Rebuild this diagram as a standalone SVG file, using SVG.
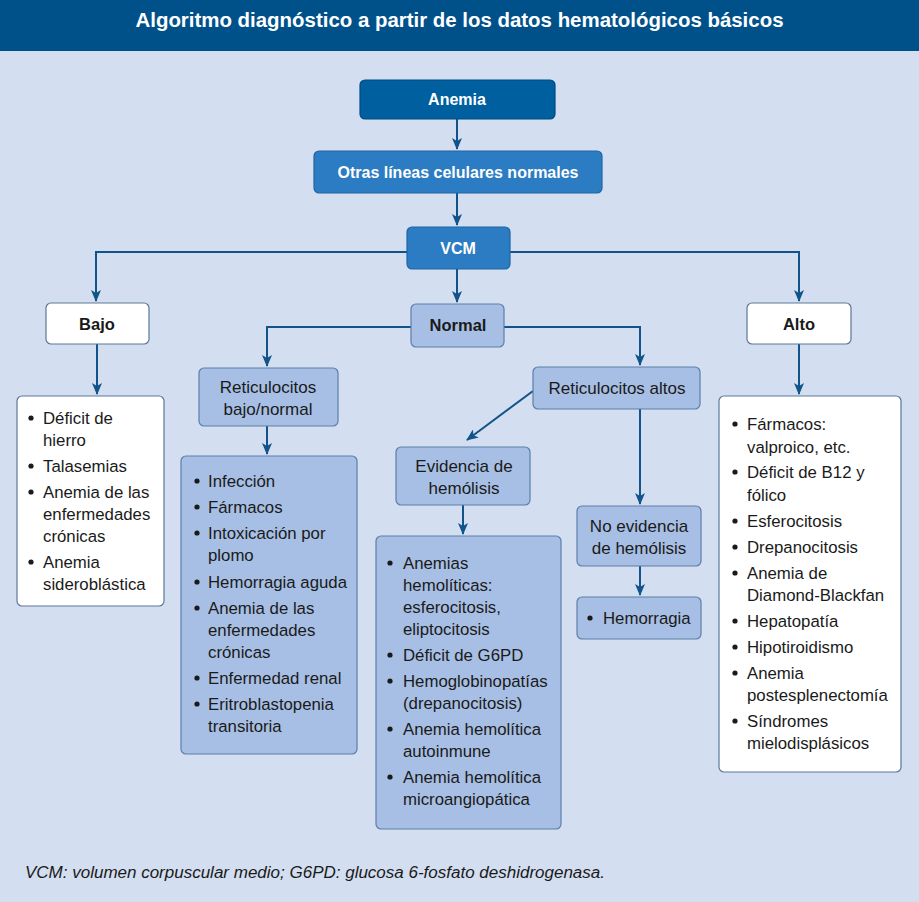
<svg xmlns="http://www.w3.org/2000/svg" width="919" height="902" viewBox="0 0 919 902">
<defs>
<marker id="ah" viewBox="0 0 12 10" refX="11" refY="5" markerWidth="12" markerHeight="10" markerUnits="userSpaceOnUse" orient="auto">
<path d="M0,0 L12,5 L0,10 L3,5 Z" fill="#12548a"/>
</marker>
</defs>
<style>
.bg{fill:#d3def1}
.hdr{fill:#00518a}
.title{font-family:"Liberation Sans",Arial,sans-serif;font-weight:bold;font-size:20px;fill:#fff}
.dark{fill:#005f9e;stroke:#004a80;stroke-width:1.2}
.mid{fill:#2b7cc2;stroke:#1e65a3;stroke-width:1.2}
.light{fill:#a7bfe4;stroke:#5d7ea9;stroke-width:1.2}
.white{fill:#fff;stroke:#5d7898;stroke-width:1.2}
.bw{font-family:"Liberation Sans",Arial,sans-serif;font-weight:bold;font-size:16px;fill:#fff;text-anchor:middle}
.bk{font-family:"Liberation Sans",Arial,sans-serif;font-weight:bold;font-size:16.5px;fill:#1a1a1a;text-anchor:middle}
.rk{font-family:"Liberation Sans",Arial,sans-serif;font-size:17px;fill:#1a1a1a;text-anchor:middle}
.li{font-family:"Liberation Sans",Arial,sans-serif;font-size:16.8px;fill:#1a1a1a}
.bul{fill:#1a1a1a}
.con{fill:none;stroke:#12548a;stroke-width:2}
.foot{font-family:"Liberation Sans",Arial,sans-serif;font-style:italic;font-size:16px;fill:#1a1a1a}
</style>
<rect class="bg" x="0" y="0" width="919" height="902"/>
<rect class="hdr" x="0" y="0" width="919" height="51"/>
<text class="title" x="459.5" y="27" text-anchor="middle" textLength="648" lengthAdjust="spacingAndGlyphs">Algoritmo diagnóstico a partir de los datos hematológicos básicos</text>

<g id="connectors">
<path class="con" d="M457,119 V149" marker-end="url(#ah)"/>
<path class="con" d="M457,193 V225" marker-end="url(#ah)"/>
<path class="con" d="M407,252 H96 V301" marker-end="url(#ah)"/>
<path class="con" d="M510,252 H799 V301" marker-end="url(#ah)"/>
<path class="con" d="M457,269 V302" marker-end="url(#ah)"/>
<path class="con" d="M97,344 V394" marker-end="url(#ah)"/>
<path class="con" d="M799,344 V394" marker-end="url(#ah)"/>
<path class="con" d="M411,327 H267 V366" marker-end="url(#ah)"/>
<path class="con" d="M504,327 H640 V365" marker-end="url(#ah)"/>
<path class="con" d="M267,426 V454" marker-end="url(#ah)"/>
<path class="con" d="M533,391 L467,440" marker-end="url(#ah)"/>
<path class="con" d="M463,505 V534" marker-end="url(#ah)"/>
<path class="con" d="M640,409 V504" marker-end="url(#ah)"/>
<path class="con" d="M640,566 V595" marker-end="url(#ah)"/>
</g>

<g id="anemia">
<rect class="dark" x="360" y="80" width="195" height="39" rx="5"/>
<text class="bw" x="457" y="105">Anemia</text>
</g>
<g id="otras">
<rect class="mid" x="314" y="151" width="288" height="42" rx="5"/>
<text class="bw" x="458" y="178">Otras líneas celulares normales</text>
</g>
<g id="vcm">
<rect class="mid" x="407" y="227" width="103" height="42" rx="5"/>
<text class="bw" x="458" y="254">VCM</text>
</g>
<g id="bajo">
<rect class="white" x="46" y="303" width="103" height="41" rx="5"/>
<text class="bk" x="97" y="330">Bajo</text>
</g>
<g id="normal">
<rect class="light" x="411" y="304" width="93" height="43" rx="5"/>
<text class="bk" x="458" y="331">Normal</text>
</g>
<g id="alto">
<rect class="white" x="747" y="303" width="104" height="41" rx="5"/>
<text class="bk" x="799" y="330">Alto</text>
</g>

<g id="lista-bajo">
<rect class="white" x="17" y="396" width="147" height="210" rx="5"/>
<g class="bul"><circle cx="31" cy="418" r="2.6"/><circle cx="31" cy="466" r="2.6"/><circle cx="31" cy="492" r="2.6"/><circle cx="31" cy="562" r="2.6"/></g>
<text class="li" x="43" y="424">Déficit de</text>
<text class="li" x="43" y="446">hierro</text>
<text class="li" x="43" y="472">Talasemias</text>
<text class="li" x="43" y="498">Anemia de las</text>
<text class="li" x="43" y="520">enfermedades</text>
<text class="li" x="43" y="542">crónicas</text>
<text class="li" x="43" y="568">Anemia</text>
<text class="li" x="43" y="590">sideroblástica</text>
</g>

<g id="reti-bajo">
<rect class="light" x="199" y="368" width="139" height="58" rx="5"/>
<text class="rk" x="268" y="393">Reticulocitos</text>
<text class="rk" x="268" y="415">bajo/normal</text>
</g>

<g id="lista-reti-bajo">
<rect class="light" x="181" y="456" width="176" height="298" rx="5"/>
<g class="bul"><circle cx="197" cy="481" r="2.6"/><circle cx="197" cy="507" r="2.6"/><circle cx="197" cy="533" r="2.6"/><circle cx="197" cy="582" r="2.6"/><circle cx="197" cy="608" r="2.6"/><circle cx="197" cy="678" r="2.6"/><circle cx="197" cy="704" r="2.6"/></g>
<text class="li" x="208" y="487">Infección</text>
<text class="li" x="208" y="513">Fármacos</text>
<text class="li" x="208" y="539">Intoxicación por</text>
<text class="li" x="208" y="561">plomo</text>
<text class="li" x="208" y="588">Hemorragia aguda</text>
<text class="li" x="208" y="614">Anemia de las</text>
<text class="li" x="208" y="636">enfermedades</text>
<text class="li" x="208" y="658">crónicas</text>
<text class="li" x="208" y="684">Enfermedad renal</text>
<text class="li" x="208" y="710">Eritroblastopenia</text>
<text class="li" x="208" y="732">transitoria</text>
</g>

<g id="reti-altos">
<rect class="light" x="533" y="367" width="167" height="42" rx="5"/>
<text class="rk" x="617" y="394">Reticulocitos altos</text>
</g>

<g id="evidencia">
<rect class="light" x="396" y="447" width="134" height="58" rx="5"/>
<text class="rk" x="464" y="472">Evidencia de</text>
<text class="rk" x="464" y="494">hemólisis</text>
</g>

<g id="lista-evidencia">
<rect class="light" x="376" y="536" width="185" height="293" rx="5"/>
<g class="bul"><circle cx="390" cy="563" r="2.6"/><circle cx="390" cy="655" r="2.6"/><circle cx="390" cy="681" r="2.6"/><circle cx="390" cy="729" r="2.6"/><circle cx="390" cy="777" r="2.6"/></g>
<text class="li" x="403" y="569">Anemias</text>
<text class="li" x="403" y="591">hemolíticas:</text>
<text class="li" x="403" y="613">esferocitosis,</text>
<text class="li" x="403" y="635">eliptocitosis</text>
<text class="li" x="403" y="661">Déficit de G6PD</text>
<text class="li" x="403" y="687">Hemoglobinopatías</text>
<text class="li" x="403" y="709">(drepanocitosis)</text>
<text class="li" x="403" y="735">Anemia hemolítica</text>
<text class="li" x="403" y="757">autoinmune</text>
<text class="li" x="403" y="783">Anemia hemolítica</text>
<text class="li" x="403" y="805">microangiopática</text>
</g>

<g id="no-evidencia">
<rect class="light" x="577" y="506" width="124" height="60" rx="5"/>
<text class="rk" x="639" y="532">No evidencia</text>
<text class="rk" x="639" y="554">de hemólisis</text>
</g>

<g id="hemorragia">
<rect class="light" x="577" y="597" width="124" height="42" rx="5"/>
<circle class="bul" cx="590" cy="618" r="2.6"/>
<text class="li" x="603" y="624">Hemorragia</text>
</g>

<g id="lista-alto">
<rect class="white" x="719" y="396" width="182" height="376" rx="5"/>
<g class="bul"><circle cx="735" cy="424" r="2.6"/><circle cx="735" cy="472" r="2.6"/><circle cx="735" cy="521" r="2.6"/><circle cx="735" cy="547" r="2.6"/><circle cx="735" cy="573" r="2.6"/><circle cx="735" cy="621" r="2.6"/><circle cx="735" cy="647" r="2.6"/><circle cx="735" cy="673" r="2.6"/><circle cx="735" cy="721" r="2.6"/></g>
<text class="li" x="747" y="430">Fármacos:</text>
<text class="li" x="747" y="453">valproico, etc.</text>
<text class="li" x="747" y="478">Déficit de B12 y</text>
<text class="li" x="747" y="501">fólico</text>
<text class="li" x="747" y="527">Esferocitosis</text>
<text class="li" x="747" y="553">Drepanocitosis</text>
<text class="li" x="747" y="579">Anemia de</text>
<text class="li" x="747" y="601">Diamond-Blackfan</text>
<text class="li" x="747" y="627">Hepatopatía</text>
<text class="li" x="747" y="653">Hipotiroidismo</text>
<text class="li" x="747" y="679">Anemia</text>
<text class="li" x="747" y="701">postesplenectomía</text>
<text class="li" x="747" y="727">Síndromes</text>
<text class="li" x="747" y="749">mielodisplásicos</text>
</g>

<text class="foot" x="25" y="878" textLength="580" lengthAdjust="spacingAndGlyphs">VCM: volumen corpuscular medio; G6PD: glucosa 6-fosfato deshidrogenasa.</text>
</svg>
